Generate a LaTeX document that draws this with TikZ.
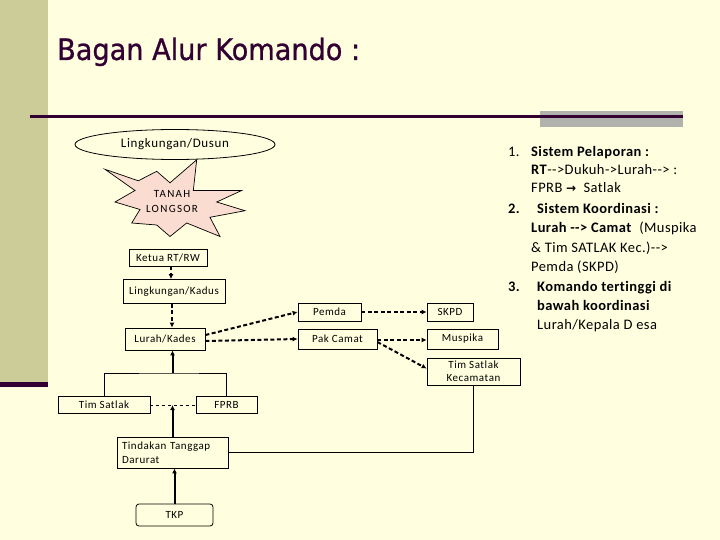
\documentclass[tikz,border=0pt]{standalone}
\usepackage{fontspec}
\setmainfont{Carlito}
\newfontfamily\dfont[LetterSpace=5,Ligatures=NoCommon]{Carlito}
\newfontfamily\rfont[LetterSpace=3,Ligatures=NoCommon]{Carlito}
\newfontfamily\titlefont[FakeStretch=0.92,FakeBold=0.8]{DejaVu Sans}
\newfontfamily\symfont{DejaVu Sans}
\usetikzlibrary{arrows.meta,calc,shapes.geometric}
\definecolor{bgc}{RGB}{255,255,224}
\definecolor{barc}{RGB}{204,204,153}
\definecolor{purp}{RGB}{51,0,51}
\definecolor{grayr}{RGB}{178,178,172}
\definecolor{burst}{RGB}{250,220,208}
\begin{document}
\begin{tikzpicture}[x=1pt,y=-1pt,
  lbl/.style={font=\dfont\fontsize{11}{13}\selectfont},
  box/.style={draw,line width=0.8pt,inner sep=1pt,lbl,align=center},
  tarr/.style={line width=2pt,-{Latex[length=5pt,width=5pt]}},
  darr/.style={line width=2pt,dash pattern=on 4pt off 2.5pt,-{Latex[length=5pt,width=5pt]}},
  thin/.style={line width=0.9pt},
  rt/.style={anchor=base west,font=\rfont\fontsize{14.5}{18}\selectfont,inner sep=0pt}]
\useasboundingbox (0,0) rectangle (720,540);
\fill[bgc] (0,0) rectangle (720,540);
% decoration
\fill[barc] (0,0) rectangle (48,382);
\fill[purp] (0,382) rectangle (48,387);
\fill[grayr] (540,111) rectangle (683,127);
\draw[purp,line width=3pt] (30,117) -- (683,117);
\node[anchor=base west,inner sep=0pt,text=purp,font=\titlefont\fontsize{29.5}{32}\selectfont] (title) at (57,60) {Bagan Alur Komando :};
% ellipse
\node[draw,ellipse,line width=0.8pt,minimum width=200pt,minimum height=30pt,inner sep=0pt,font=\dfont\fontsize{13}{15}\selectfont] (dusun) at (175,144.5) {Lingkungan/Dusun};
% starburst
\draw[fill=burst,line width=0.7pt] (105,169.3) -- (138.3,180.8) -- (156.7,171.3) -- (170,182.8) -- (196.7,159.8) -- (193.3,190.5) -- (241.7,190.5) -- (216.7,202) -- (245,210.7) -- (210,217.3) -- (220,236.5) -- (186.7,223) -- (170,236.5) -- (156.7,225) -- (131.7,223) -- (140,209.5) -- (115,202) -- (135,190.5) -- cycle;
\node[align=center,font=\dfont\addfontfeature{LetterSpace=12}\fontsize{11}{15}\selectfont] (tanah) at (172,201.5) {TANAH\\LONGSOR};
% boxes
\node[box,minimum width=78pt,minimum height=17pt] (ketua) at (168,257.5) {Ketua RT/RW};
\node[box,minimum width=102pt,minimum height=24pt] (kadus) at (174,291.5) {Lingkungan/Kadus};
\node[box,minimum width=80pt,minimum height=22pt] (lurah) at (165,339) {Lurah/Kades};
\node[box,minimum width=63pt,minimum height=18pt] (pemda) at (329.5,312) {Pemda};
\node[box,minimum width=46pt,minimum height=18pt] (skpd) at (450,312) {SKPD};
\node[box,minimum width=79pt,minimum height=20pt] (camat) at (337.5,339) {Pak Camat};
\node[box,minimum width=71pt,minimum height=20pt] (muspika) at (462.5,339) {Muspika};
\node[box,minimum width=93pt,minimum height=27pt,font=\dfont\fontsize{11}{13}\selectfont] (tsk) at (473.5,371.5) {Tim Satlak\\Kecamatan};
\node[box,minimum width=92pt,minimum height=17pt] (timsatlak) at (104,405) {Tim Satlak};
\node[box,minimum width=61pt,minimum height=17pt] (fprb) at (226.5,405) {FPRB};
\node[box,minimum width=111pt,minimum height=31pt,align=left,text width=101pt,inner sep=0pt,font=\dfont\fontsize{11}{14}\selectfont] (tindakan) at (172.5,452.5) {Tindakan Tanggap\\Darurat};
\node[box,rounded corners=3pt,minimum width=77pt,minimum height=22pt] (tkp) at (174.5,515) {TKP};
% connectors
\coordinate (ax1) at (171,0);
\coordinate (ax2) at (172,0);
\draw[darr] (ax1 |- ketua.south) -- (ax1 |- kadus.north);
\draw[darr] (ax2 |- kadus.south) -- (ax2 |- lurah.north);
\draw[darr] ($(lurah.east)+(0,-4)$) -- (pemda.west);
\draw[darr] ($(lurah.east)+(0,2)$) -- (camat.west);
\draw[darr] (pemda.east) -- (skpd.west);
\draw[darr] ($(camat.east)+(0,1)$) -- ($(muspika.west)+(0,1)$);
\draw[darr] ($(camat.east)+(0,3)$) -- ($(tsk.west)+(0,-3)$);
\coordinate (brk) at (172.5,373);
\draw[thin] (timsatlak.north) |- (brk) -| (fprb.north);
\draw[tarr] (brk) -- (brk |- lurah.south);
\draw[thin,dashed] (timsatlak.east) -- (fprb.west);
\coordinate (mid) at (172.5,405);
\draw[tarr] (mid |- tindakan.north) -- (mid);
\draw[tarr] (tkp.north) -- (tkp.north |- tindakan.south);
\draw[thin] (tindakan.east) -| (tsk.south);
% right text
\node[rt] (n1) at (508,157) {1.};
\node[rt] (t1a) at (531,157) {\bfseries Sistem Pelaporan :};
\node[rt] (t1b) at (531,175) {\textbf{RT}-{}-{}>Dukuh-{}>Lurah-{}-{}> :};
\node[rt] (t1c) at (531,193) {FPRB {\symfont\bfseries\fontsize{12}{14}\selectfont →}\ \ Satlak};
\node[rt] (n2) at (508,214) {\bfseries 2.};
\node[rt] (t2a) at (537,214) {\bfseries Sistem Koordinasi :};
\node[rt] (t2b) at (531,233) {\textbf{Lurah -{}-{}> Camat}\ \ (Muspika};
\node[rt] (t2c) at (531,252) {\& Tim SATLAK Kec.)-{}-{}>};
\node[rt] (t2d) at (531,271) {Pemda (SKPD)};
\node[rt] (n3) at (508,291) {\bfseries 3.};
\node[rt] (t3a) at (537,291) {\bfseries Komando tertinggi di};
\node[rt] (t3b) at (537,310) {\bfseries bawah koordinasi};
\node[rt] (t3c) at (537,329) {Lurah/Kepala D esa};
\end{tikzpicture}
\end{document}
